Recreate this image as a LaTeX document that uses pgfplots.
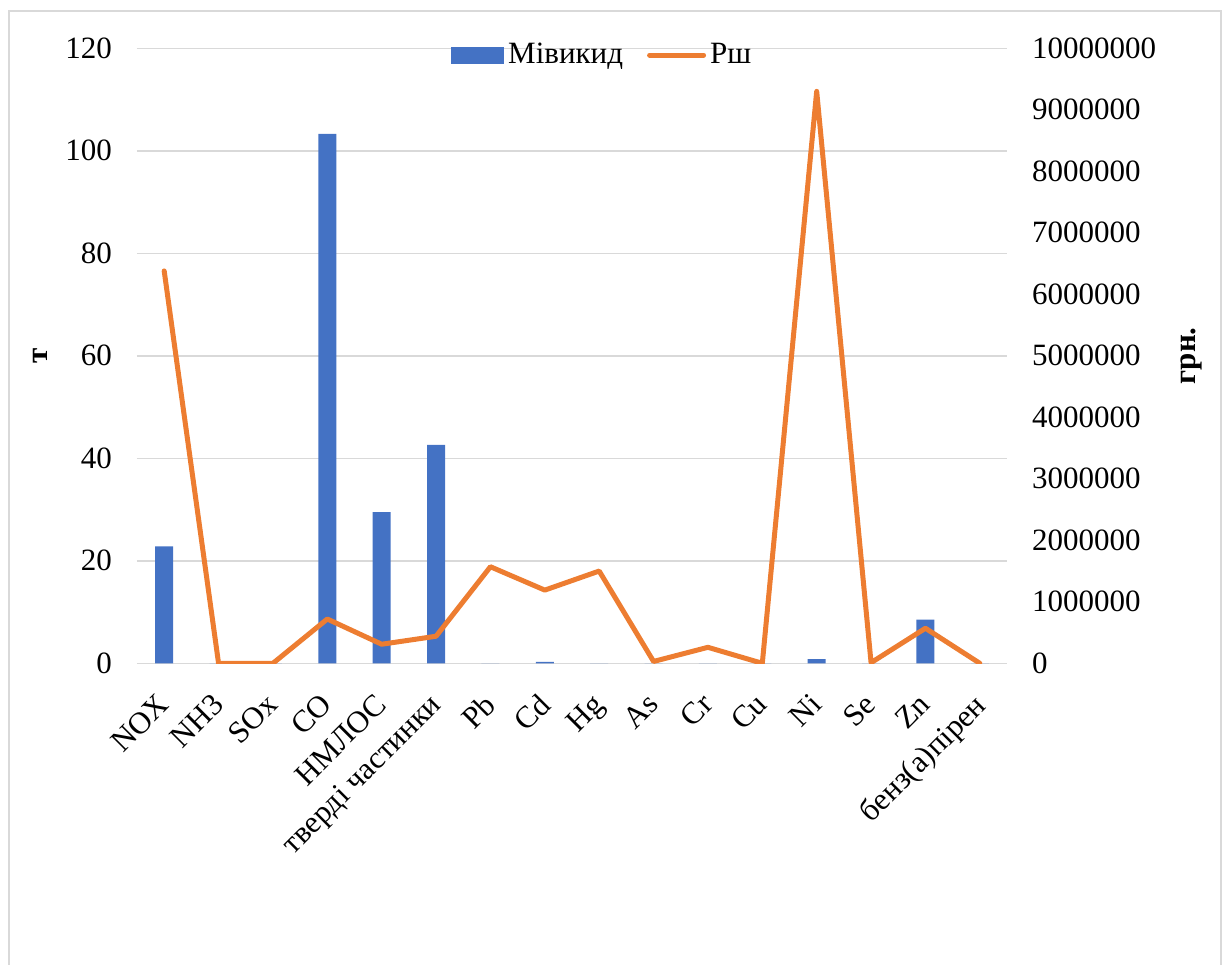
\documentclass[border=0pt]{standalone}
\usepackage{fontspec}
\setmainfont{Liberation Serif}
\usepackage{pgfplots}
\pgfplotsset{compat=1.18}
\definecolor{barblue}{HTML}{4472C4}
\definecolor{lineorange}{HTML}{ED7D31}
\definecolor{gridgray}{HTML}{D9D9D9}
\newcommand\cf{\fontsize{15.5}{18.6}\selectfont}
\begin{document}
\begin{tikzpicture}
\path[use as bounding box] (-68.5pt,-150.85pt) rectangle (543pt,331.65pt);
\draw[gridgray, line width=0.75pt] (-64pt,-160pt) -- (-64pt,326.15pt) -- (542pt,326.15pt) -- (542pt,-160pt);
\begin{axis}[
  scale only axis,
  width=435pt, height=307.5pt,
  xmin=-0.5, xmax=15.5,
  ymin=0, ymax=120,
  ytick={0,20,...,120},
  xtick={0,...,15},
  xticklabels={NOX, NH3, SOx, CO, НМЛОС, тверді частинки, Pb, Cd, Hg, As, Cr, Cu, Ni, Se, Zn, бенз(а)пірен},
  axis x line*=bottom, axis y line*=left,
  x axis line style={draw=none}, y axis line style={draw=none},
  major tick length=0pt,
  ymajorgrids, grid style={draw=gridgray, line width=0.75pt},
  tick label style={font=\cf},
  yticklabel style={/pgf/number format/assume math mode=true},
  yticklabel shift=9pt,
  xticklabel style={xshift=-4pt, rotate=45, anchor=north east, inner sep=0pt},
  xticklabel shift=14pt,
  every axis y label/.style={at={(axis description cs:-0.1115,0.5)}, rotate=90, anchor=center, font=\cf\bfseries},
  ylabel={т},
]
\addplot[ybar, bar width=9pt, fill=barblue, draw=none] coordinates {
(0,22.8) (1,0) (2,0) (3,103.3) (4,29.5) (5,42.6) (6,0) (7,0.3) (8,0) (9,0) (10,0) (11,0) (12,0.8) (13,0) (14,8.5) (15,0)
};
\end{axis}
\begin{axis}[
  scale only axis,
  width=435pt, height=307.5pt,
  xmin=-0.5, xmax=15.5,
  ymin=0, ymax=10000000,
  ytick={0,1000000,...,10000000},
  scaled y ticks=false,
  axis x line=none, axis y line*=right,
  y axis line style={draw=none},
  major tick length=0pt,
  tick label style={font=\cf},
  yticklabel style={/pgf/number format/.cd, fixed, 1000 sep={}, assume math mode=true},
  yticklabel shift=9pt,
  every axis y label/.style={at={(axis description cs:1.2126,0.5)}, rotate=90, anchor=center, font=\cf\bfseries},
  ylabel={грн.},
  legend style={at={(axis description cs:0.536,0.989)}, anchor=center, draw=none, fill=none, font=\cf, legend columns=2, /tikz/every even column/.append style={column sep=10pt}},
]
\addlegendimage{legend image code/.code={\fill[barblue] (0pt,-4pt) rectangle (26pt,4pt);}}
\addlegendentry{Мівикид}
\addplot[lineorange, line width=2.5pt, line join=round, line cap=round,
  legend image code/.code={\draw[lineorange, line width=2.5pt, line cap=round] (0pt,0pt) -- (27pt,0pt);}] coordinates {
(0,6380000) (1,0) (2,0) (3,720000) (4,310000) (5,440000) (6,1570000) (7,1190000) (8,1500000) (9,30000) (10,260000) (11,0) (12,9300000) (13,10000) (14,570000) (15,0)
};
\addlegendentry{Рш}
\end{axis}
\end{tikzpicture}
\end{document}
